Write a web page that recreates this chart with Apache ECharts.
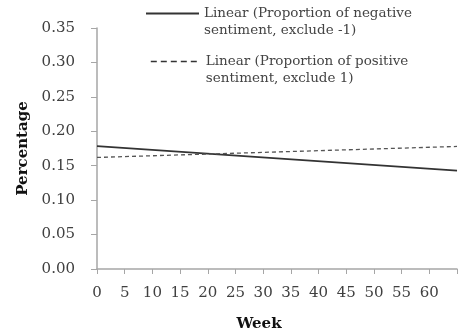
<!DOCTYPE html>
<html>
<head>
<meta charset="UTF-8">
<title>Sentiment trend</title>
<script type="text/javascript" src="https://cdn.jsdelivr.net/npm/echarts@6/dist/echarts.min.js"></script>
<style>body{margin:0;background:#fff;}</style>
</head>
<body>
<div id="main" style="width:458px;height:332px;"></div>

<script type="text/javascript">
// trendline end points
var weeks = [0, 65];
var negative = [0.1785, 0.1428];
var positive = [0.162, 0.178];
var yTicks = [0, 0.05, 0.10, 0.15, 0.20, 0.25, 0.30, 0.35];

var negName = 'Linear (Proportion of negative\nsentiment, exclude -1)';
var posName = 'Linear (Proportion of positive\nsentiment, exclude 1)';

function pairs(xs, ys) {
    var out = [];
    for (var i = 0; i < xs.length; i++) out.push([xs[i], ys[i]]);
    return out;
}

var font = 'DejaVu Serif';
var legendText = { fontFamily: font, fontSize: 13.5, color: '#444', lineHeight: 17 };
// blank first line so the icon lines up with the first text line
function legendFmt(name) { return ' \n' + name; }

var mychart = echarts.init(document.getElementById('main'));

var option = {
    animation: false,
    grid: { left: 97, top: 28, right: 1, bottom: 63, outerBoundsMode: 'none', containLabel: false },
    legend: [{
        data: [negName], left: 145, top: -12, padding: 0,
        itemWidth: 53, itemHeight: 14, formatter: legendFmt,
        itemStyle: { opacity: 0, borderWidth: 0 },
        lineStyle: { width: 2 },
        textStyle: legendText
    }, {
        data: [posName], left: 150, top: 36, padding: 0,
        itemWidth: 50, itemHeight: 14, formatter: legendFmt,
        itemStyle: { opacity: 0, borderWidth: 0 },
        lineStyle: { width: 1.6, type: [6, 4], color: '#333' },
        textStyle: legendText
    }],
    xAxis: {
        type: 'value', min: 0, max: 65, interval: 5,
        name: 'Week', nameLocation: 'middle', nameGap: 48,
        nameTextStyle: { fontFamily: font, fontSize: 15, fontWeight: 'bold', color: '#111', padding: [0, 36, 0, 0] },
        splitLine: { show: false },
        axisLine: { lineStyle: { color: '#a6a6a6', width: 1.5 } },
        axisTick: { length: 5, lineStyle: { color: '#a6a6a6' } },
        axisLabel: {
            margin: 17, fontFamily: font, fontSize: 15, color: '#404040',
            formatter: function (v) { return v > 60 ? '' : v; }
        }
    },
    yAxis: {
        type: 'value', min: yTicks[0], max: yTicks[yTicks.length - 1], interval: 0.05,
        name: 'Percentage', nameLocation: 'middle', nameGap: 66,
        nameTextStyle: { fontFamily: font, fontSize: 15, fontWeight: 'bold', color: '#111' },
        splitLine: { show: false },
        axisLine: { show: true, lineStyle: { color: '#a6a6a6', width: 1.5 } },
        axisTick: { show: true, length: 6, lineStyle: { color: '#a6a6a6' } },
        axisLabel: {
            margin: 22, fontFamily: font, fontSize: 15, color: '#404040',
            formatter: function (v) { return v.toFixed(2); }
        }
    },
    series: [{
        name: negName, type: 'line', symbol: 'none',
        data: pairs(weeks, negative),
        lineStyle: { color: '#333', width: 1.8 },
        itemStyle: { color: '#333' }
    }, {
        name: posName, type: 'line', symbol: 'none',
        data: pairs(weeks, positive),
        lineStyle: { color: '#555', width: 1.3, type: [4, 3] },
        itemStyle: { color: '#555' }
    }]
};

mychart.setOption(option);
</script>
</body>
</html>
